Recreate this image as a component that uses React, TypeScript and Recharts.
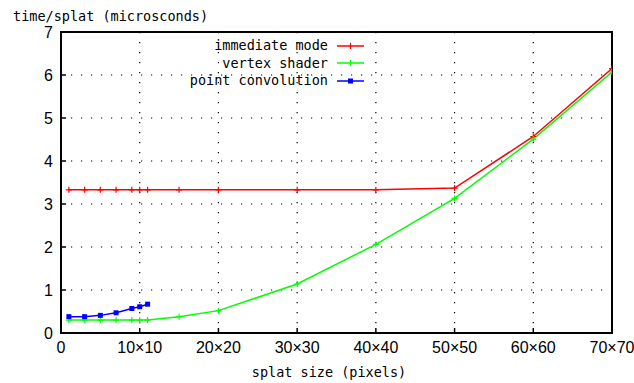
import { LineChart, Line, XAxis, YAxis, CartesianGrid, ReferenceArea, Label } from "recharts";

// splat sizes (n meaning n×n pixels)
const immediateX = [1, 3, 5, 7, 9, 10, 11, 15, 20, 30, 40, 50, 60, 70];
const immediateY = [3.33, 3.33, 3.33, 3.33, 3.33, 3.33, 3.33, 3.33, 3.33, 3.33, 3.33, 3.37, 4.57, 6.15];

const vertexX = [1, 3, 5, 7, 9, 10, 11, 15, 20, 30, 40, 50, 60, 70];
const vertexY = [0.3, 0.3, 0.3, 0.3, 0.3, 0.3, 0.3, 0.38, 0.52, 1.14, 2.06, 3.13, 4.51, 6.07];

const pointX = [1, 3, 5, 7, 9, 10, 11];
const pointY = [0.38, 0.38, 0.41, 0.47, 0.57, 0.61, 0.67];

const xTicks = [0, 10, 20, 30, 40, 50, 60, 70];
const yTicks = [0, 1, 2, 3, 4, 5, 6, 7];

const seriesNames = ["immediate mode", "vertex shader", "point convolution"];
const seriesColors = ["#ff0000", "#00ff00", "#0000ff"];

const toRows = (xs: number[], ys: number[]) => xs.map((x, i) => ({ x, y: ys[i] }));

const MONO = "'DejaVu Sans Mono', 'Liberation Mono', monospace";
const SANS = "'Liberation Sans', Arial, sans-serif";

function PlusDot(props: any) {
  const { cx, cy, stroke } = props;
  if (cx == null || cy == null) return null;
  return (
    <path
      d={`M${cx - 3},${cy}H${cx + 3}M${cx},${cy - 3}V${cy + 3}`}
      stroke={stroke}
      strokeWidth={1.2}
      fill="none"
    />
  );
}

function SquareDot(props: any) {
  const { cx, cy, stroke } = props;
  if (cx == null || cy == null) return null;
  return <rect x={cx - 2.5} y={cy - 2.5} width={5} height={5} fill={stroke} />;
}

// gnuplot-style key, top right inside the plot
function LegendBox() {
  return (
    <div style={{ position: "absolute", left: 0, top: 37, width: 634, pointerEvents: "none" }}>
      {seriesNames.map((name, i) => (
        <div
          key={name}
          style={{
            position: "absolute",
            right: 634 - 365,
            top: i * 17.5,
            display: "flex",
            alignItems: "center",
            fontFamily: MONO,
            fontSize: 13.5,
            lineHeight: "17px",
            color: "#000",
          }}
        >
          <span>{name}</span>
          <svg width={36} height={10} style={{ marginLeft: 1 }}>
            <line x1={8} y1={5} x2={35} y2={5} stroke={seriesColors[i]} strokeWidth={1.5} />
            {i < 2 ? (
              <path d="M21.5,2V8" stroke={seriesColors[i]} strokeWidth={1.2} />
            ) : (
              <rect x={19} y={2.5} width={5} height={5} fill={seriesColors[i]} />
            )}
          </svg>
        </div>
      ))}
    </div>
  );
}

export default function App() {
  return (
    <div style={{ position: "absolute", left: 0, top: 0, width: 634, height: 383, background: "#fff" }}>
      <LineChart width={634} height={383} margin={{ top: 32, right: 22, bottom: 0, left: 0 }}>
        <CartesianGrid stroke="#000" strokeDasharray="1.2 8.8" strokeWidth={1.2} />
        <XAxis
          dataKey="x"
          type="number"
          domain={[0, 70]}
          ticks={xTicks}
          allowDataOverflow
          height={50}
          tickSize={-5}
          tickMargin={14}
          axisLine={{ stroke: "#000", strokeWidth: 2 }}
          tickLine={{ stroke: "#000", strokeWidth: 1.5 }}
          tick={{ fill: "#000", fontFamily: SANS, fontSize: 16 }}
          tickFormatter={(v: number) => (v === 0 ? "0" : `${v}×${v}`)}
        >
          <Label
            content={() => (
              <text x={329} y={377} textAnchor="middle" fontFamily={MONO} fontSize={13.5} fill="#000">
                splat size (pixels)
              </text>
            )}
          />
        </XAxis>
        <XAxis
          xAxisId="top"
          orientation="top"
          type="number"
          domain={[0, 70]}
          ticks={xTicks}
          height={0}
          tick={false}
          tickSize={-5}
          axisLine={false}
          tickLine={{ stroke: "#000", strokeWidth: 1.5 }}
        />
        <YAxis
          type="number"
          domain={[0, 7]}
          ticks={yTicks}
          width={61}
          tickSize={-5}
          tickMargin={13}
          axisLine={{ stroke: "#000", strokeWidth: 2 }}
          tickLine={{ stroke: "#000", strokeWidth: 1.5 }}
          tick={{ fill: "#000", fontFamily: SANS, fontSize: 16 }}
        >
          <Label
            content={() => (
              <text x={13} y={21} fontFamily={MONO} fontSize={13.5} fill="#000">
                time/splat (microsconds)
              </text>
            )}
          />
        </YAxis>
        <YAxis
          yAxisId="right"
          orientation="right"
          type="number"
          domain={[0, 7]}
          ticks={yTicks}
          width={0}
          tick={false}
          tickSize={-5}
          axisLine={false}
          tickLine={{ stroke: "#000", strokeWidth: 1.5 }}
        />
        <ReferenceArea
          x1={0}
          x2={70}
          y1={0}
          y2={7}
          fill="none"
          fillOpacity={0}
          stroke="#000"
          strokeWidth={2}
          ifOverflow="visible"
        />
        <Line
          data={toRows(immediateX, immediateY)}
          dataKey="y"
          name={seriesNames[0]}
          stroke={seriesColors[0]}
          strokeWidth={1.5}
          dot={<PlusDot />}
          activeDot={false}
          isAnimationActive={false}
        />
        <Line
          data={toRows(vertexX, vertexY)}
          dataKey="y"
          name={seriesNames[1]}
          stroke={seriesColors[1]}
          strokeWidth={1.5}
          dot={<PlusDot />}
          activeDot={false}
          isAnimationActive={false}
        />
        <Line
          data={toRows(pointX, pointY)}
          dataKey="y"
          name={seriesNames[2]}
          stroke={seriesColors[2]}
          strokeWidth={1.5}
          dot={<SquareDot />}
          activeDot={false}
          isAnimationActive={false}
        />
      </LineChart>
      <LegendBox />
    </div>
  );
}
